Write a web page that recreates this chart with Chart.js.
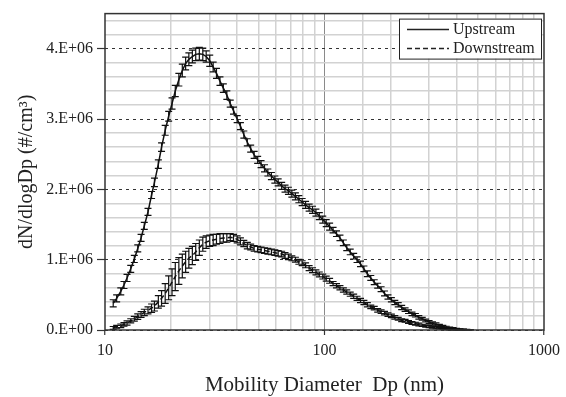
<!DOCTYPE html>
<html>
<head>
<meta charset="utf-8">
<script src="https://cdn.jsdelivr.net/npm/chart.js@4"></script>
<style>
  body { margin: 0; background: #fff; }
  #wrap { width: 566px; height: 397px; }
</style>
</head>
<body>
<div id="wrap"><canvas id="chart" width="566" height="397"></canvas></div>
<script>
// SMPS channel mid-point diameters (nm), 64 channels/decade
const diametersNm = [
  10.9, 11.3, 11.8, 12.2, 12.6, 13.1, 13.6, 14.1, 14.6, 15.1,
  15.7, 16.3, 16.8, 17.5, 18.1, 18.8, 19.5, 20.2, 20.9, 21.7,
  22.5, 23.3, 24.1, 25.0, 25.9, 26.9, 27.9, 28.9, 30.0, 31.1,
  32.2, 33.4, 34.6, 35.9, 37.2, 38.5, 40.0, 41.4, 42.9, 44.5,
  46.1, 47.8, 49.6, 51.4, 53.3, 55.2, 57.3, 59.4, 61.5, 63.8,
  66.1, 68.5, 71.0, 73.7, 76.4, 79.1, 82.0, 85.1, 88.2, 91.4,
  94.7, 98.2, 101.8, 105.5, 109.4, 113.4, 117.6, 121.9, 126.3, 131.0,
  135.8, 140.7, 145.9, 151.2, 156.8, 162.5, 168.5, 174.7, 181.1, 187.7,
  194.6, 201.7, 209.1, 216.7, 224.7, 232.9, 241.4, 250.3, 259.5, 269.0,
  278.8, 289.0, 299.6, 310.6, 322.0, 333.8, 346.0, 358.7, 371.8, 385.4,
  399.5, 414.2, 429.4, 445.1, 461.4
];

// dN/dlogDp in units of 1.E+06 #/cm3
const upstream = [
  0.38, 0.45, 0.55, 0.64, 0.74, 0.87, 1.01, 1.16, 1.31, 1.48,
  1.68, 1.92, 2.10, 2.36, 2.60, 2.84, 3.04, 3.22, 3.40, 3.56,
  3.69, 3.79, 3.85, 3.89, 3.92, 3.93, 3.92, 3.89, 3.83, 3.74,
  3.65, 3.54, 3.44, 3.34, 3.22, 3.12, 3.00, 2.90, 2.78, 2.67,
  2.58, 2.49, 2.42, 2.36, 2.30, 2.24, 2.19, 2.14, 2.10, 2.05,
  2.01, 1.98, 1.94, 1.90, 1.86, 1.82, 1.78, 1.74, 1.71, 1.67,
  1.62, 1.57, 1.52, 1.47, 1.42, 1.37, 1.31, 1.24, 1.17, 1.11,
  1.05, 1.00, 0.94, 0.87, 0.80, 0.74, 0.68, 0.63, 0.58, 0.52,
  0.47, 0.43, 0.39, 0.36, 0.32, 0.29, 0.26, 0.23, 0.21, 0.18,
  0.16, 0.135, 0.115, 0.095, 0.08, 0.065, 0.05, 0.038, 0.028, 0.02,
  0.013, 0.008, 0.005, 0.003, 0.001
];
const upstreamErr = [
  0.05, 0.05, 0.05, 0.05, 0.05, 0.05, 0.05, 0.05, 0.05, 0.05,
  0.05, 0.05, 0.06, 0.06, 0.06, 0.07, 0.07, 0.08, 0.08, 0.09,
  0.09, 0.09, 0.09, 0.09, 0.09, 0.09, 0.09, 0.08, 0.08, 0.07,
  0.07, 0.06, 0.06, 0.06, 0.05, 0.05, 0.05, 0.05, 0.05, 0.05,
  0.05, 0.05, 0.05, 0.05, 0.05, 0.05, 0.05, 0.05, 0.05, 0.05,
  0.05, 0.05, 0.05, 0.05, 0.05, 0.05, 0.05, 0.05, 0.05, 0.05,
  0.05, 0.05, 0.05, 0.05, 0.04, 0.04, 0.04, 0.04, 0.04, 0.04,
  0.04, 0.04, 0.04, 0.04, 0.04, 0.035, 0.035, 0.035, 0.035, 0.035,
  0.03, 0.03, 0.03, 0.03, 0.03, 0.025, 0.025, 0.025, 0.025, 0.025,
  0.02, 0.02, 0.02, 0.02, 0.02, 0.015, 0.015, 0.015, 0.015, 0.015,
  0.01, 0.01, 0.008, 0.006, 0.004
];
const downstream = [
  0.03, 0.045, 0.06, 0.08, 0.10, 0.13, 0.16, 0.19, 0.22, 0.25,
  0.28, 0.31, 0.34, 0.40, 0.45, 0.52, 0.60, 0.68, 0.76, 0.84,
  0.91, 0.97, 1.02, 1.06, 1.11, 1.17, 1.22, 1.25, 1.27, 1.28,
  1.29, 1.30, 1.31, 1.31, 1.32, 1.31, 1.29, 1.26, 1.23, 1.20,
  1.18, 1.16, 1.15, 1.14, 1.13, 1.12, 1.11, 1.10, 1.09, 1.08,
  1.06, 1.04, 1.02, 1.00, 0.97, 0.95, 0.92, 0.88, 0.85, 0.82,
  0.79, 0.76, 0.73, 0.70, 0.66, 0.63, 0.60, 0.57, 0.54, 0.51,
  0.48, 0.45, 0.42, 0.39, 0.36, 0.33, 0.31, 0.28, 0.26, 0.24,
  0.22, 0.20, 0.18, 0.16, 0.14, 0.13, 0.115, 0.10, 0.09, 0.078,
  0.067, 0.057, 0.048, 0.04, 0.033, 0.027, 0.021, 0.016, 0.012, 0.009,
  0.006, 0.004, 0.003, 0.002, 0.001
];
const downstreamErr = [
  0.02, 0.02, 0.025, 0.025, 0.03, 0.03, 0.035, 0.04, 0.04, 0.045,
  0.05, 0.06, 0.07, 0.09, 0.11, 0.14, 0.17, 0.19, 0.20, 0.19,
  0.17, 0.15, 0.14, 0.13, 0.12, 0.11, 0.10, 0.09, 0.08, 0.08,
  0.07, 0.07, 0.06, 0.06, 0.05, 0.05, 0.05, 0.05, 0.045, 0.045,
  0.04, 0.04, 0.04, 0.04, 0.04, 0.04, 0.04, 0.04, 0.04, 0.04,
  0.04, 0.04, 0.035, 0.035, 0.035, 0.035, 0.035, 0.035, 0.035, 0.035,
  0.035, 0.035, 0.035, 0.035, 0.03, 0.03, 0.03, 0.03, 0.03, 0.03,
  0.03, 0.03, 0.03, 0.03, 0.03, 0.025, 0.025, 0.025, 0.025, 0.025,
  0.025, 0.025, 0.025, 0.02, 0.02, 0.02, 0.02, 0.02, 0.02, 0.02,
  0.015, 0.015, 0.015, 0.015, 0.015, 0.01, 0.01, 0.01, 0.01, 0.01,
  0.008, 0.006, 0.005, 0.004, 0.003
];

const xTickLabels = [10, 100, 1000];
const yMax = 4.5;

const FONT = '"Liberation Serif", "Times New Roman", serif';

function toPoints(values) {
  return diametersNm.map((d, i) => ({ x: d, y: values[i] }));
}

function isWhole(v) {
  return Math.abs(v - Math.round(v)) < 1e-6;
}

// vertical error bars with caps, drawn through the chart scales
const errorBars = {
  id: 'errorBars',
  afterDatasetsDraw(chart) {
    const ctx = chart.ctx;
    const yScale = chart.scales.y;
    chart.data.datasets.forEach((ds, i) => {
      const meta = chart.getDatasetMeta(i);
      ctx.save();
      ctx.strokeStyle = '#111';
      ctx.lineWidth = 1.2;
      meta.data.forEach((pt, j) => {
        const v = ds.data[j].y;
        const e = ds.errors[j];
        const top = yScale.getPixelForValue(v + e);
        const bot = yScale.getPixelForValue(Math.max(0, v - e));
        ctx.beginPath();
        ctx.moveTo(pt.x, top);
        ctx.lineTo(pt.x, bot);
        ctx.moveTo(pt.x - 3.5, top);
        ctx.lineTo(pt.x + 3.5, top);
        ctx.moveTo(pt.x - 3.5, bot);
        ctx.lineTo(pt.x + 3.5, bot);
        ctx.stroke();
      });
      ctx.restore();
    });
  }
};

// plot frame
const frame = {
  id: 'frame',
  afterDraw(chart) {
    const { ctx, chartArea: a } = chart;
    ctx.save();
    ctx.strokeStyle = '#333';
    ctx.lineWidth = 1.5;
    ctx.strokeRect(a.left, a.top, a.right - a.left, a.bottom - a.top);
    ctx.restore();
  }
};

// boxed legend in the top-right corner of the plot
const boxLegend = {
  id: 'boxLegend',
  afterDraw(chart) {
    const { ctx, chartArea: a } = chart;
    const w = 142, h = 40;
    const x0 = a.right - w - 3, y0 = a.top + 5;
    ctx.save();
    ctx.fillStyle = '#fff';
    ctx.fillRect(x0, y0, w, h);
    ctx.strokeStyle = '#222';
    ctx.lineWidth = 1;
    ctx.strokeRect(x0 + 0.5, y0 + 0.5, w, h);
    ctx.font = '16px ' + FONT;
    ctx.textBaseline = 'middle';
    ctx.fillStyle = '#222';
    chart.data.datasets.forEach((ds, i) => {
      const yy = y0 + 11 + i * 19;
      ctx.beginPath();
      ctx.setLineDash(ds.borderDash || []);
      ctx.lineWidth = 1.5;
      ctx.moveTo(x0 + 8, yy);
      ctx.lineTo(x0 + 50, yy);
      ctx.stroke();
      ctx.setLineDash([]);
      ctx.fillText(ds.label, x0 + 54, yy);
    });
    ctx.restore();
  }
};

new Chart(document.getElementById('chart'), {
  type: 'line',
  data: {
    datasets: [
      {
        label: 'Upstream',
        data: toPoints(upstream),
        errors: upstreamErr,
        borderColor: '#111',
        borderWidth: 1.5,
        pointRadius: 0,
        tension: 0,
        fill: false
      },
      {
        label: 'Downstream',
        data: toPoints(downstream),
        errors: downstreamErr,
        borderColor: '#111',
        borderWidth: 1.5,
        borderDash: [5, 3],
        pointRadius: 0,
        tension: 0,
        fill: false
      }
    ]
  },
  options: {
    responsive: false,
    animation: false,
    layout: { padding: { top: 13, right: 19, left: 0, bottom: 0 } },
    plugins: {
      legend: { display: false },
      tooltip: { enabled: false }
    },
    scales: {
      x: {
        type: 'logarithmic',
        min: 10,
        max: 1000,
        afterFit: s => { s.height = 67; },
        border: { display: false },
        grid: {
          color: c => {
            const v = c.tick && c.tick.value;
            if (v === 100) return '#8a8a8a';
            if (v === 10 || v === 1000) return 'rgba(0,0,0,0)';
            return '#d2d2d2';
          },
          lineWidth: c => (c.tick && c.tick.value === 100 ? 1 : 1.5),
          tickColor: c => (xTickLabels.includes(c.tick && c.tick.value) ? '#333' : 'rgba(0,0,0,0)'),
          tickLength: 5,
          tickWidth: 1.2
        },
        ticks: {
          autoSkip: false,
          maxRotation: 0,
          padding: 6,
          color: '#222',
          font: { family: FONT, size: 16 },
          callback: v => (xTickLabels.includes(v) ? String(v) : '')
        },
        title: {
          display: true,
          text: 'Mobility Diameter  Dp (nm)',
          color: '#222',
          font: { family: FONT, size: 21, lineHeight: 1 },
          padding: { top: 0, bottom: 1 }
        }
      },
      y: {
        min: 0,
        max: yMax,
        afterFit: s => { s.width = 105; },
        border: { display: false, dash: [3, 4] },
        grid: {
          color: '#333',
          lineWidth: 1,
          tickColor: '#333',
          tickLength: 8,
          tickWidth: 1.2
        },
        ticks: {
          stepSize: 1,
          includeBounds: false,
          padding: 4,
          color: '#222',
          font: { family: FONT, size: 16 },
          callback: v => (v === 0 ? '0.E+00' : v + '.E+06')
        },
        title: {
          display: true,
          text: 'dN/dlogDp (#/cm³)',
          color: '#222',
          font: { family: FONT, size: 20, lineHeight: 1 },
          padding: { top: 17, bottom: 0 }
        }
      },
      yMinor: {
        position: 'left',
        min: 0,
        max: yMax,
        afterFit: s => { s.width = 0; },
        border: { display: false },
        grid: {
          drawTicks: false,
          color: c => (c.tick && isWhole(c.tick.value) ? 'rgba(0,0,0,0)' : '#d2d2d2'),
          lineWidth: 1.5,
          z: -1
        },
        ticks: { display: false, stepSize: 0.2, includeBounds: false }
      }
    }
  },
  plugins: [errorBars, frame, boxLegend]
});
</script>
</body>
</html>
